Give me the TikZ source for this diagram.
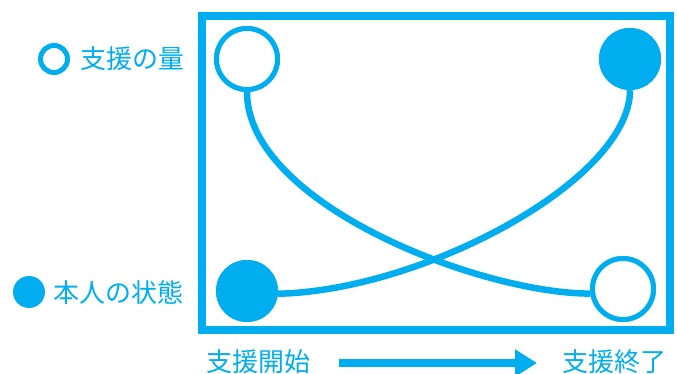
\documentclass[tikz,border=0pt]{standalone}
\usepackage{fontspec}
\newfontfamily\jp{Noto Sans CJK JP}
\usetikzlibrary{arrows.meta}
\definecolor{cy}{HTML}{00AEEF}
\tikzset{
  opendot/.style={circle,draw=cy,line width=5pt,fill=white,inner sep=0pt},
  fulldot/.style={circle,fill=cy,draw=none,inner sep=0pt},
  lab/.style={anchor=base west,inner sep=0pt,text=cy,font=\jp\fontsize{26}{30}\selectfont},
  curve/.style={draw=cy,line width=6.5pt},
}
\begin{document}
\begin{tikzpicture}[x=1pt,y=-1pt]
\useasboundingbox (0,0) rectangle (677,374);
\draw[cy,line width=8pt] (202,16) rectangle (670,330);
\node[opendot,minimum size=61pt] (tl) at (247,59) {};
\node[fulldot,minimum size=62pt] (bl) at (247,291) {};
\node[fulldot,minimum size=62pt] (tr) at (630,59) {};
\node[opendot,minimum size=61pt] (br) at (623,289) {};
\draw[curve] (tl.south) .. controls +(0,112) and +(-110,0) .. (br.188);
\draw[curve] (bl.-5) .. controls +(145,-3) and +(0,90) .. (tr.south);
\node[opendot,minimum size=61pt] at (tl) {};
\node[opendot,minimum size=61pt] at (br) {};
\node[fulldot,minimum size=62pt] at (bl) {};
\node[fulldot,minimum size=62pt] at (tr) {};
% legend
\node[opendot,minimum size=27pt] (lo) at (54,59) {};
\node[lab] (lt1) at (80,68.5) {支援の量};
\node[fulldot,minimum size=32pt] (lf) at (29,292) {};
\node[lab] (lt2) at (53,302) {本人の状態};
% time axis
\node[lab] (s) at (206,371) {支援開始};
\node[lab] (e) at (562,371) {支援終了};
\coordinate (a1) at (339,363);
\coordinate (a2) at (537,363);
\draw[cy,line width=8pt,-{Triangle[length=22pt,width=26pt]}] (a1) -- (a2);
\end{tikzpicture}
\end{document}
